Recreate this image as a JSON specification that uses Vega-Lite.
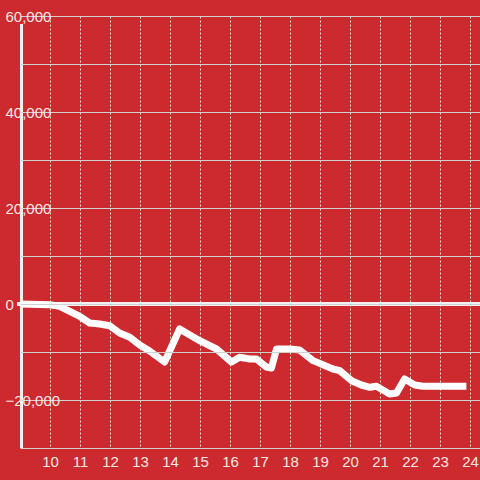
{
  "$schema": "https://vega.github.io/schema/vega-lite/v6.json",
  "autosize": {"type": "none"},
  "width": 460,
  "height": 432,
  "padding": {"left": 20, "top": 16, "right": 0, "bottom": 32},
  "background": "#cc2a2e",
  "config": {
    "view": {"stroke": null},
    "font": "Liberation Sans"
  },
  "data": {
    "values": [
      {"h": 9.0, "v": 0},
      {"h": 9.99, "v": -150},
      {"h": 10.32, "v": -480},
      {"h": 10.66, "v": -1520},
      {"h": 10.99, "v": -2560},
      {"h": 11.32, "v": -3960},
      {"h": 11.66, "v": -4170},
      {"h": 11.99, "v": -4520},
      {"h": 12.32, "v": -6040},
      {"h": 12.66, "v": -6940},
      {"h": 12.99, "v": -8540},
      {"h": 13.32, "v": -9790},
      {"h": 13.82, "v": -12080},
      {"h": 14.32, "v": -5210},
      {"h": 14.99, "v": -7650},
      {"h": 15.55, "v": -9375},
      {"h": 16.05, "v": -12080},
      {"h": 16.32, "v": -11100},
      {"h": 16.66, "v": -11460},
      {"h": 16.88, "v": -11460},
      {"h": 17.21, "v": -13125},
      {"h": 17.38, "v": -13330},
      {"h": 17.55, "v": -9375},
      {"h": 17.99, "v": -9375},
      {"h": 18.32, "v": -9580},
      {"h": 18.77, "v": -11800},
      {"h": 19.43, "v": -13540},
      {"h": 19.66, "v": -13900},
      {"h": 20.05, "v": -15980},
      {"h": 20.38, "v": -16875},
      {"h": 20.66, "v": -17350},
      {"h": 20.88, "v": -17150},
      {"h": 21.32, "v": -18750},
      {"h": 21.55, "v": -18540},
      {"h": 21.82, "v": -15625},
      {"h": 22.16, "v": -16875},
      {"h": 22.43, "v": -17150},
      {"h": 23.88, "v": -17150}
    ]
  },
  "encoding": {
    "x": {
      "field": "h",
      "type": "quantitative",
      "scale": {"domain": [9, 24.333], "nice": false, "zero": false},
      "axis": {
        "title": null,
        "values": [10, 11, 12, 13, 14, 15, 16, 17, 18, 19, 20, 21, 22, 23, 24],
        "domain": false,
        "ticks": false,
        "labelPadding": 6,
        "labelFontSize": 15,
        "labelColor": "#f5e6e6",
        "labelFont": "Liberation Sans",
        "labelFlush": false,
        "grid": true,
        "gridColor": "#dddddd",
        "gridDash": [2, 2],
        "gridWidth": 1
      }
    },
    "y": {
      "field": "v",
      "type": "quantitative",
      "scale": {"domain": [-30000, 60000], "nice": false},
      "axis": {
        "title": null,
        "values": [-30000, -20000, -10000, 0, 10000, 20000, 30000, 40000, 50000, 60000],
        "labelExpr": "datum.value % 20000 === 0 ? format(datum.value, ',') : ''",
        "domain": false,
        "ticks": false,
        "labelAlign": "left",
        "labelBaseline": "middle",
        "labelPadding": 15,
        "labelFontSize": 15,
        "labelColor": "#f5e6e6",
        "labelFont": "Liberation Sans",
        "labelFlush": false,
        "grid": true,
        "gridColor": "#d0d0d0",
        "gridWidth": 1,
        "zindex": 1
      }
    }
  },
  "layer": [
    {
      "mark": {"type": "rule", "color": "#f4f0f0", "strokeWidth": 3},
      "encoding": {"y": {"datum": 0}, "x": {"datum": 8.9}, "x2": {"datum": 24.333}}
    },
    {
      "mark": {"type": "rule", "color": "#f4f0f0", "strokeWidth": 3},
      "encoding": {"x": {"datum": 9.05}, "y": {"datum": -30000}, "y2": {"datum": 58300}}
    },
    {
      "mark": {"type": "line", "color": "#ffffff", "strokeWidth": 7, "strokeCap": "butt", "strokeJoin": "round", "clip": false}
    }
  ]
}
